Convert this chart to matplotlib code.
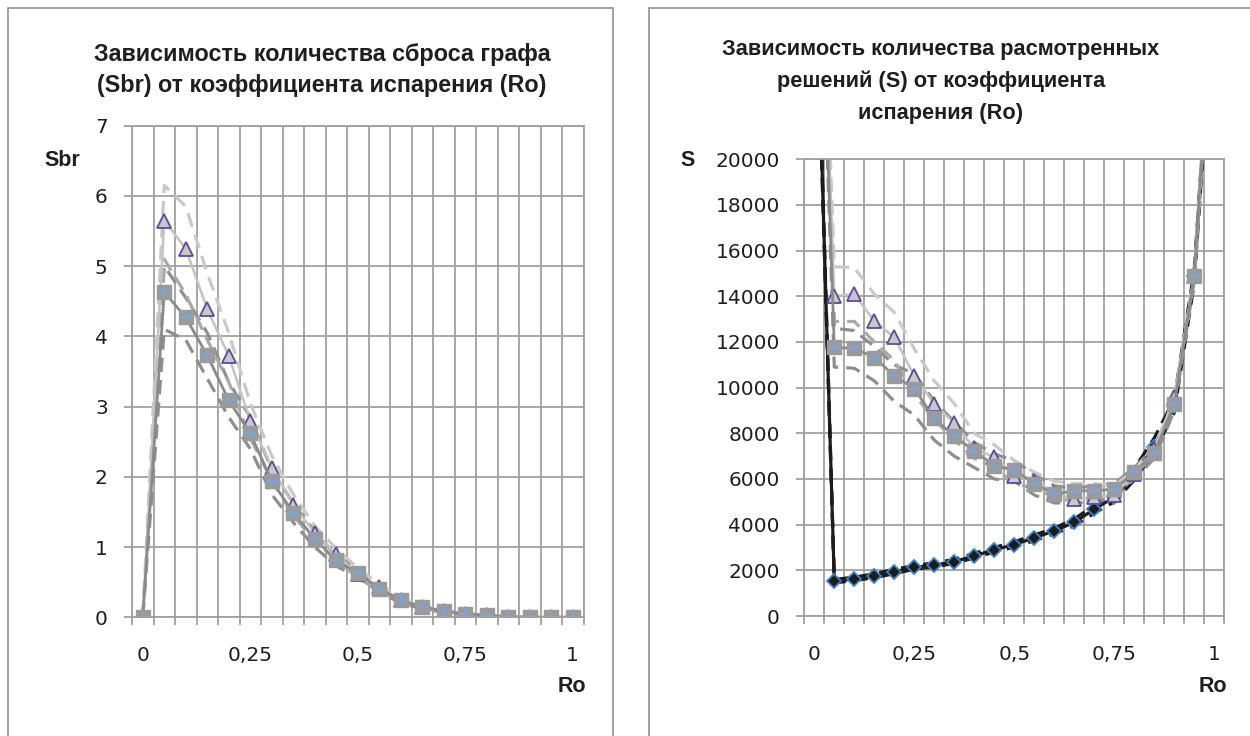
"""Зависимость Sbr и S от коэффициента испарения Ro — два графика рядом"""

import matplotlib
matplotlib.use("Agg")

import matplotlib.pyplot as plt
from matplotlib.patches import Rectangle
import numpy as np

# ── данные ───────────────────────────────────────────────────
ro = [0, 0.05, 0.1, 0.15, 0.2, 0.25, 0.3, 0.35, 0.4, 0.45, 0.5,
      0.55, 0.6, 0.65, 0.7, 0.75, 0.8, 0.85, 0.9, 0.95, 1]
ro_ticks = [0, 0.25, 0.5, 0.75, 1]
ro_labels = ["0", "0,25", "0,5", "0,75", "1"]

# левый график: Sbr
sbr_sq = [0, 4.63, 4.27, 3.73, 3.09, 2.62, 1.94, 1.49, 1.12, 0.81, 0.63,
          0.41, 0.24, 0.15, 0.09, 0.05, 0.03, 0.01, 0, 0, 0]
sbr_tri = [0, 5.65, 5.25, 4.39, 3.72, 2.8, 2.13, 1.6, 1.2, 0.9, 0.62,
           0.43, 0.25, 0.15, 0.09, 0.05, 0.03, 0.01, 0, 0, 0]
sbr_tri_hi = [0, 6.15, 5.85, 4.9, 4.05, 3.05, 2.3, 1.75, 1.3, 0.98, 0.7,
              0.47, 0.28, 0.17, 0.1, 0.06, 0.03, 0.01, 0, 0, 0]
sbr_tri_lo = [0, 5.1, 4.6, 3.95, 3.35, 2.55, 1.95, 1.45, 1.08, 0.82, 0.56,
              0.38, 0.21, 0.13, 0.08, 0.04, 0.02, 0.01, 0, 0, 0]
sbr_sq_hi = [0, 5.0, 4.55, 4.05, 3.35, 2.85, 2.1, 1.62, 1.22, 0.88, 0.68,
             0.45, 0.27, 0.16, 0.1, 0.05, 0.03, 0.01, 0, 0, 0]
sbr_sq_lo = [0, 4.1, 3.95, 3.4, 2.85, 2.4, 1.75, 1.35, 1.0, 0.73, 0.57,
             0.36, 0.2, 0.12, 0.07, 0.03, 0.02, 0, 0, 0, 0]

# правый график: S (крайние точки уходят за верх оси)
s_dia = [31000, 1520, 1620, 1760, 1940, 2130, 2230, 2380, 2640, 2900, 3130,
         3420, 3730, 4100, 4680, 5200, 6200, 7400, 9200, 14900, 28000]
s_dia_hi = [31500, 1600, 1700, 1850, 2050, 2200, 2330, 2480, 2750, 3000, 3250,
            3550, 3850, 4250, 4850, 5400, 6450, 7800, 9500, 15200, 28500]
s_dia_lo = [30500, 1450, 1550, 1680, 1850, 2050, 2150, 2300, 2550, 2800, 3020,
            3300, 3600, 3950, 4500, 5000, 5950, 7200, 8900, 14600, 27500]
s_sq = [38000, 11760, 11730, 11320, 10520, 9960, 8650, 7870, 7230, 6580, 6400,
        5800, 5340, 5480, 5480, 5560, 6290, 7130, 9280, 14900, 28700]
s_tri = [39000, 14020, 14090, 12920, 12200, 10520, 9280, 8450, 7340, 6950, 6140,
         5920, 5400, 5120, 5200, 5300, 6200, 7300, 9600, 14900, 28700]
s_tri_hi = [39500, 15300, 15250, 14100, 13300, 11700, 10300, 9300, 8000, 7500, 6800,
            6300, 5900, 5800, 5800, 5700, 6400, 7400, 9500, 15000, 29000]
s_tri_lo = [38500, 12900, 12900, 12000, 11200, 9700, 8600, 7700, 6900, 6500, 5800,
            5600, 5200, 5000, 5100, 5200, 6100, 7200, 9300, 14800, 28300]
s_sq_hi = [38500, 12600, 12500, 11800, 11000, 10600, 9400, 8500, 7600, 7100, 6800,
           6200, 5700, 5600, 5700, 5800, 6500, 7400, 9400, 15000, 28700]
s_sq_lo = [37500, 10900, 10850, 10300, 9400, 8800, 7700, 7000, 6500, 6000, 5900,
           5300, 4950, 4950, 5000, 5200, 6000, 6900, 9000, 14700, 28000]

# ── оформление ───────────────────────────────────────────────
W, H = 1250, 736
GRID = "#a0a0a0"
TXT = "#1f1f1f"
TITLE_FONT = ["Liberation Sans", "DejaVu Sans"]
TICK_FONT = ["DejaVu Sans"]

C_LIGHT = "#c9c9c9"
C_MID = "#a9a9a9"
C_DARK = "#8e8e8e"
DASH = (0, (4.5, 2.5))

fig = plt.figure(figsize=(W / 100, H / 100), dpi=100)
fig.patch.set_facecolor("white")


def px_axes(x0, y0, x1, y1):
    """Оси по пиксельным координатам (верх-лево = 0,0)."""
    return fig.add_axes([x0 / W, 1 - y1 / H, (x1 - x0) / W, (y1 - y0) / H])


def ftext(x, y, s, size=15.5, **kw):
    fig.text(x / W, 1 - y / H, s, color=TXT, family=TITLE_FONT,
             fontweight="bold", fontsize=size, **kw)


def style_axes(ax, ymax, ystep):
    ax.set_xlim(-0.025, 1.025)
    ax.set_ylim(0, ymax)
    ax.set_xticks(ro_ticks)
    ax.set_xticklabels(ro_labels)
    ax.set_xticks(np.arange(-0.025, 1.03, 0.05), minor=True)
    ax.set_yticks(np.arange(0, ymax + ystep / 2, ystep))
    ax.tick_params(axis="x", which="major", length=0, pad=21,
                   labelsize=14.5, labelcolor=TXT)
    ax.tick_params(axis="x", which="minor", length=6, width=1.3,
                   color=GRID, direction="out")
    ax.tick_params(axis="y", length=5.5, width=1.3, color=GRID, pad=12,
                   labelsize=14.5, labelcolor=TXT)
    for lbl in ax.get_xticklabels() + ax.get_yticklabels():
        lbl.set_family(TICK_FONT)
    ax.grid(True, axis="x", which="minor", color=GRID, linewidth=1.3)
    ax.grid(True, axis="y", which="major", color=GRID, linewidth=1.3)
    ax.set_axisbelow(True)
    for sp in ax.spines.values():
        sp.set_color(GRID)
        sp.set_linewidth(1.3)


def draw_bands(ax, tri_hi, tri_lo, sq_hi, sq_lo):
    ax.plot(ro, sq_lo, color=C_DARK, lw=2.3, ls=DASH)
    ax.plot(ro, sq_hi, color=C_DARK, lw=2.3, ls=DASH)
    ax.plot(ro, tri_lo, color=C_MID, lw=2.3, ls=DASH)
    ax.plot(ro, tri_hi, color=C_LIGHT, lw=2.3, ls=DASH)


def draw_main(ax, tri, sq):
    ax.plot(ro, tri, color="#c3c3c3", lw=1.8, marker="^", markersize=10,
            markerfacecolor="#c8c8c8", markeredgecolor="#5b4a9c",
            markeredgewidth=1.3)
    ax.plot(ro, sq, color="#8a8a8a", lw=2.0, marker="s", markersize=10,
            markerfacecolor="#9a9a9a", markeredgecolor="#9a9a9a")
    ax.plot(ro, sq, ls="none", marker="+", markersize=8,
            markeredgecolor="#7ea4d6", markeredgewidth=1.3)


# ── рамки панелей ──
for x0, x1 in [(8, 613), (649, 1262)]:
    fig.patches.append(Rectangle((x0 / W, -0.05), (x1 - x0) / W, 1 - 8 / H + 0.05,
                                 transform=fig.transFigure, fill=False,
                                 edgecolor="#9a9a9a", linewidth=1.3))

# ── левый график ──
ax1 = px_axes(132, 125.7, 583.5, 617.3)
style_axes(ax1, 7, 1)
draw_bands(ax1, sbr_tri_hi, sbr_tri_lo, sbr_sq_hi, sbr_sq_lo)
draw_main(ax1, sbr_tri, sbr_sq)

ftext(322, 61.5, "Зависимость количества сброса графа", size=16.8,
      ha="center", va="baseline")
ftext(322, 92, "(Sbr) от коэффициента испарения (Ro)", size=16.8,
      ha="center", va="baseline")
ftext(62, 160, "Sbr", ha="center", va="center")
ftext(572, 686, "Ro", ha="center", va="center")

# ── правый график ──
ax2 = px_axes(804.3, 159.3, 1224.3, 616)
style_axes(ax2, 20000, 2000)
ax2.plot(ro, s_dia_lo, color="#1c1c1c", lw=2.3, ls=DASH)
ax2.plot(ro, s_dia_hi, color="#1c1c1c", lw=2.3, ls=DASH)
ax2.plot(ro, s_dia, color="#1c1c1c", lw=2.3, marker="D", markersize=7,
         markerfacecolor="#1c1c1c", markeredgecolor="#3d80c4",
         markeredgewidth=1.3)
draw_bands(ax2, s_tri_hi, s_tri_lo, s_sq_hi, s_sq_lo)
draw_main(ax2, s_tri, s_sq)

ftext(941, 55, "Зависимость количества расмотренных", size=15.7,
      ha="center", va="baseline")
ftext(941, 87, "решений (S) от коэффициента", size=15.7,
      ha="center", va="baseline")
ftext(941, 118.5, "испарения (Ro)", size=15.7, ha="center", va="baseline")
ftext(688, 160, "S", ha="center", va="center")
ftext(1213, 686, "Ro", ha="center", va="center")

fig.savefig("out.png", dpi=100, facecolor="white")
plt.close(fig)
